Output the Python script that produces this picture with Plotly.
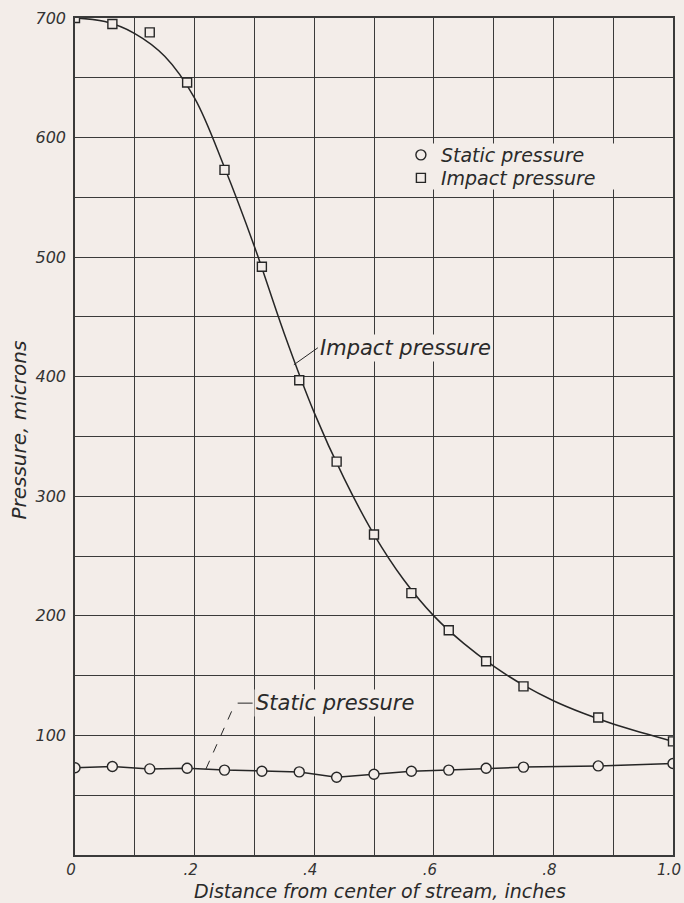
import plotly.graph_objects as go

# ---- data ----
stations = [0, 0.0625, 0.125, 0.1875, 0.25, 0.3125, 0.375, 0.4375, 0.5,
            0.5625, 0.625, 0.6875, 0.75, 0.875, 1.0]
static_p = [73, 74, 72, 72.5, 71, 70, 69.5, 65, 67.5, 70, 71, 72.5, 73.5, 74.5, 76.5]
impact_p = [700, 695, 688, 646, 573, 492, 397, 329, 268, 219, 188, 162, 141, 115, 95]

# faired curve through the impact-pressure points
fair_x = [0, .05, .1, .15, .2, .25, .3, .35, .4, .45, .5, .55, .6, .65, .7, .75,
          .8, .85, .9, .95, 1.0]
fair_y = [700, 697, 687, 668, 633, 575, 509, 436, 370, 315, 268, 230, 200, 177,
          158, 142, 129, 118.5, 109.5, 102, 95]

x_tickvals = [0, 0.2, 0.4, 0.6, 0.8, 1.0]
x_ticktext = ["0", ".2", ".4", ".6", ".8", "1.0"]
y_tickvals = [100, 200, 300, 400, 500, 600, 700]
y_ticktext = ["100", "200", "300", "400", "500", "600", "700"]

PAPER = "#f3ede9"
INK = "#262626"
GRID = "#3a3a3a"
FONT = "DejaVu Sans"

fig = go.Figure()

# lines
fig.add_trace(go.Scatter(x=fair_x, y=fair_y, mode="lines",
                         line=dict(color=INK, width=1.5, shape="spline", smoothing=1.0),
                         showlegend=False, hoverinfo="skip"))
fig.add_trace(go.Scatter(x=stations, y=static_p, mode="lines",
                         line=dict(color=INK, width=1.5),
                         showlegend=False, hoverinfo="skip"))
# markers
fig.add_trace(go.Scatter(x=stations, y=static_p, mode="markers", name="Static pressure",
                         legend="legend",
                         marker=dict(symbol="circle", size=10, color=PAPER,
                                     line=dict(color=INK, width=1.4))))
fig.add_trace(go.Scatter(x=stations, y=impact_p, mode="markers", name="Impact pressure",
                         legend="legend2",
                         marker=dict(symbol="square", size=9, color=PAPER,
                                     line=dict(color=INK, width=1.4))))

x_tick_font = dict(family=FONT, size=15, color="#333333", style="italic")
y_tick_font = dict(family=FONT, size=16, color="#333333", style="italic")
label_font = dict(family=FONT, size=19, color="#2a2a2a", style="italic")
leg_font = dict(family=FONT, size=19, color="#2a2a2a", style="italic")

fig.update_xaxes(range=[0, 1.0], tickvals=x_tickvals, ticktext=x_ticktext,
                 showgrid=True, gridcolor=GRID, gridwidth=1,
                 minor=dict(dtick=0.1, tick0=0, showgrid=True, gridcolor=GRID, gridwidth=1),
                 showline=True, linecolor=GRID, linewidth=1.5, mirror=True,
                 zeroline=False, ticks="", tickfont=x_tick_font, ticklabelstandoff=0,
                 ticklabelshift=-4, automargin=False, ticklabeloverflow="allow")
fig.update_yaxes(range=[0, 700], tickvals=y_tickvals, ticktext=y_ticktext,
                 showgrid=True, gridcolor=GRID, gridwidth=1,
                 minor=dict(dtick=50, tick0=0, showgrid=True, gridcolor=GRID, gridwidth=1),
                 showline=True, linecolor=GRID, linewidth=1.5, mirror=True,
                 zeroline=False, ticks="", tickfont=y_tick_font, ticklabelstandoff=4,
                 automargin=False, ticklabeloverflow="allow")

# axis titles
fig.add_annotation(x=0.51, y=-0.043, xref="paper", yref="paper",
                   text="Distance from center of stream, inches", showarrow=False,
                   xanchor="center", yanchor="middle", font=label_font)
fig.add_annotation(x=-0.094, y=0.508, xref="paper", yref="paper",
                   text="Pressure, microns", showarrow=False, textangle=-90,
                   xanchor="center", yanchor="middle",
                   font=dict(family=FONT, size=20, color="#2a2a2a", style="italic"))

# curve labels with leaders
fig.add_annotation(x=0.366, y=410, xref="x", yref="y",
                   text="Impact pressure", showarrow=True, arrowhead=0,
                   arrowwidth=1, arrowcolor=INK, ax=24, ay=-17,
                   xanchor="left", yanchor="middle", bgcolor=PAPER,
                   font=dict(family=FONT, size=21, color="#2a2a2a", style="italic"))
fig.add_shape(type="line", xref="x", yref="y", x0=0.219, y0=72, x1=0.268, y1=127,
              line=dict(color=INK, width=1, dash="dash"))
fig.add_shape(type="line", xref="x", yref="y", x0=0.272, y0=127, x1=0.297, y1=127,
              line=dict(color=INK, width=1))
fig.add_annotation(x=0.3, y=127, xref="x", yref="y", text="Static pressure",
                   showarrow=False, xanchor="left", yanchor="middle", bgcolor=PAPER,
                   font=dict(family=FONT, size=21, color="#2a2a2a", style="italic"))

# blank patch behind the key (breaks the grid like the reference)
fig.add_shape(type="rect", xref="paper", yref="paper", layer="above",
              x0=0.545, x1=0.975, y0=0.795, y1=0.85,
              fillcolor=PAPER, line=dict(width=0))

legend_common = dict(xanchor="left", yanchor="middle", bgcolor="rgba(0,0,0,0)",
                     borderwidth=0, font=leg_font)
fig.update_layout(
    width=684, height=903,
    margin=dict(l=75, r=11, t=18, b=48),
    paper_bgcolor=PAPER, plot_bgcolor=PAPER,
    legend=dict(x=0.545, y=0.8363, **legend_common),
    legend2=dict(x=0.545, y=0.8088, **legend_common),
)

fig.write_html("out.html")
